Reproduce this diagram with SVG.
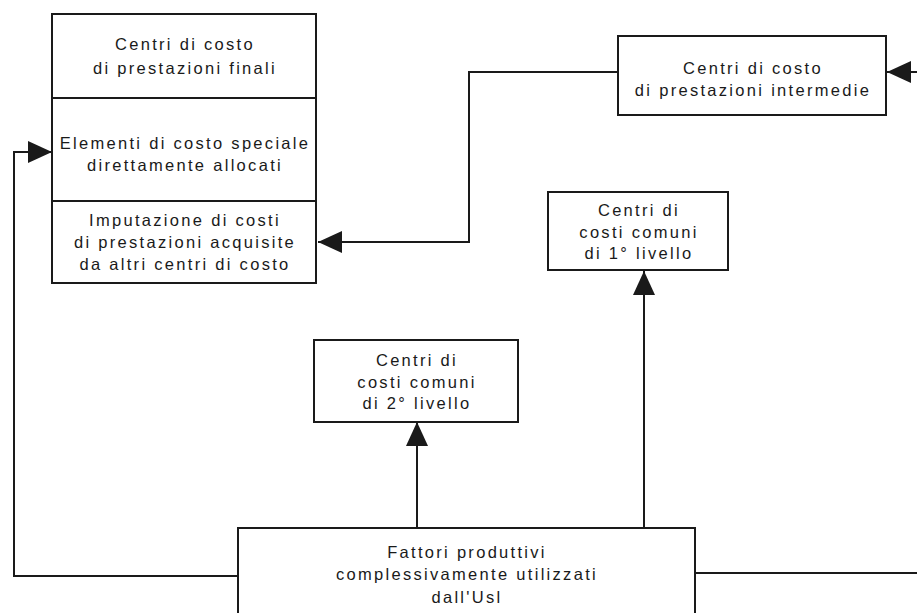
<svg xmlns="http://www.w3.org/2000/svg" width="917" height="613" viewBox="0 0 917 613">
  <style>
    .box { fill: #ffffff; stroke: #1a1a1a; stroke-width: 2; }
    .div { stroke: #1a1a1a; stroke-width: 2; }
    .conn { fill: none; stroke: #1a1a1a; stroke-width: 2; }
    text { font-family: "Liberation Sans", Arial, sans-serif; font-size: 16.5px; letter-spacing: 2.3px; fill: #1a1a1a; text-anchor: middle; }
  </style>
  <defs>
    <marker id="arr" markerUnits="userSpaceOnUse" markerWidth="26" markerHeight="24" refX="24" refY="11" orient="auto">
      <path d="M0,0 L24,11 L0,22 Z" fill="#1a1a1a"/>
    </marker>
  </defs>
  <rect width="917" height="613" fill="#ffffff"/>

  <g id="connectors">
    <polyline class="conn" points="618,72 469,72 469,242 318,242" marker-end="url(#arr)"/>
    <line class="conn" x1="917" y1="72" x2="887" y2="72" marker-end="url(#arr)"/>
    <line class="conn" x1="644" y1="528" x2="644" y2="271" marker-end="url(#arr)"/>
    <line class="conn" x1="417" y1="528" x2="417" y2="422" marker-end="url(#arr)"/>
    <polyline class="conn" points="238,576 14,576 14,152 52,152" marker-end="url(#arr)"/>
    <line class="conn" x1="695" y1="573" x2="917" y2="573"/>
  </g>

  <g id="box-finali">
    <rect class="box" x="52" y="14" width="264" height="269"/>
    <line class="div" x1="52" y1="98" x2="316" y2="98"/>
    <line class="div" x1="52" y1="201" x2="316" y2="201"/>
    <text x="185" y="50">Centri di costo</text>
    <text x="185" y="74">di prestazioni finali</text>
    <text x="185" y="149">Elementi di costo speciale</text>
    <text x="185" y="171">direttamente allocati</text>
    <text x="185" y="226">Imputazione di costi</text>
    <text x="185" y="248">di prestazioni acquisite</text>
    <text x="185" y="270">da altri centri di costo</text>
  </g>

  <g id="box-intermedie">
    <rect class="box" x="618" y="36" width="268" height="79"/>
    <text x="753" y="74">Centri di costo</text>
    <text x="753" y="96">di prestazioni intermedie</text>
  </g>

  <g id="box-comuni-1">
    <rect class="box" x="548" y="192" width="180" height="78"/>
    <text x="639" y="216">Centri di</text>
    <text x="639" y="238">costi comuni</text>
    <text x="639" y="259">di 1° livello</text>
  </g>

  <g id="box-comuni-2">
    <rect class="box" x="314" y="340" width="204" height="82"/>
    <text x="417" y="366">Centri di</text>
    <text x="417" y="388">costi comuni</text>
    <text x="417" y="409">di 2° livello</text>
  </g>

  <g id="box-fattori">
    <rect class="box" x="238" y="528" width="457" height="90"/>
    <text x="467" y="558">Fattori produttivi</text>
    <text x="467" y="580">complessivamente utilizzati</text>
    <text x="467" y="603">dall'Usl</text>
  </g>
</svg>
